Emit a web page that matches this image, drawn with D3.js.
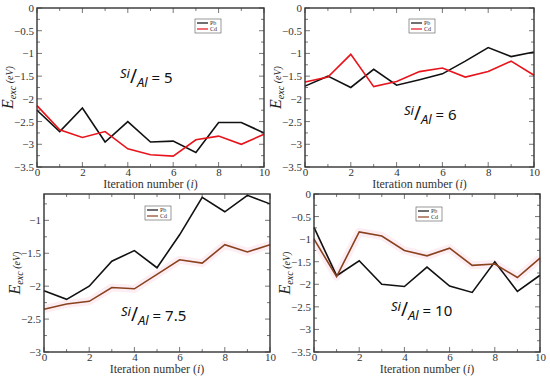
<!DOCTYPE html>
<html><head><meta charset="utf-8">
<script src="https://cdn.jsdelivr.net/npm/d3@7"></script>
<style>body{margin:0;background:#fff}svg{display:block}</style>
</head><body>
<script>
const iterations = [0,1,2,3,4,5,6,7,8,9,10];
const pb5  = [-2.25,-2.72,-2.2,-2.95,-2.5,-2.95,-2.93,-3.18,-2.52,-2.52,-2.75];
const cd5  = [-2.15,-2.68,-2.85,-2.72,-3.1,-3.23,-3.26,-2.9,-2.82,-3.0,-2.78];
const pb6  = [-1.72,-1.5,-1.75,-1.35,-1.7,-1.58,-1.45,-1.17,-0.87,-1.07,-0.97];
const cd6  = [-1.63,-1.52,-1.02,-1.73,-1.62,-1.4,-1.32,-1.52,-1.4,-1.17,-1.48];
const pb75 = [-2.07,-2.2,-2.0,-1.62,-1.46,-1.72,-1.22,-0.65,-0.87,-0.62,-0.75];
const cd75 = [-2.35,-2.27,-2.23,-2.02,-2.04,-1.82,-1.6,-1.65,-1.37,-1.48,-1.37];
const pb10 = [-0.74,-1.81,-1.48,-2.0,-2.05,-1.62,-2.04,-2.18,-1.5,-2.16,-1.8];
const cd10 = [-1.0,-1.83,-0.84,-0.93,-1.25,-1.37,-1.2,-1.58,-1.55,-1.85,-1.42];
const ratios = ["5","6","7.5","10"];
const xTicks = [0,2,4,6,8,10];
const yTicksA = [0,-0.5,-1,-1.5,-2,-2.5,-3,-3.5];
const yTicksB = [-1,-1.5,-2,-2.5,-3];

const panels = [
  {box:[37,8,264,167], ydom:[-3.5,0], yt:yTicksA, pb:pb5, cd:cd5, cdCol:"#e8141c", glow:false, ratio:ratios[0], leg:[195,19], ann:[120,83]},
  {box:[305,8,534,167], ydom:[-3.5,0], yt:yTicksA, pb:pb6, cd:cd6, cdCol:"#e8141c", glow:false, ratio:ratios[1], leg:[409,19], ann:[404,120]},
  {box:[44,194,270,352], ydom:[-3,-0.6], yt:yTicksB, pb:pb75, cd:cd75, cdCol:"#8a421e", glow:true, ratio:ratios[2], leg:[145,206], ann:[121,321]},
  {box:[314,194,540,352], ydom:[-3.5,0], yt:yTicksA, pb:pb10, cd:cd10, cdCol:"#8a421e", glow:true, ratio:ratios[3], leg:[416,207], ann:[391,316]}
];

const svg = d3.select("body").append("svg").attr("width",550).attr("height",376);
const serif = "'Liberation Serif','DejaVu Serif',serif";

panels.forEach(p => {
  const [x0,y0,x1,y1] = p.box;
  const x = d3.scaleLinear().domain([0,10]).range([x0,x1]);
  const y = d3.scaleLinear().domain(p.ydom).range([y1,y0]);
  const g = svg.append("g");

  const minorX = d3.range(0,10.01,1);
  const minorY = d3.range(Math.ceil(p.ydom[0]/0.25)*0.25, p.ydom[1]+0.001, 0.25);
  const tk = g.append("g").attr("stroke","#555").attr("stroke-width",0.8);
  minorX.forEach(v => {
    const L = (v%2===0)?5:3;
    tk.append("line").attr("x1",x(v)).attr("x2",x(v)).attr("y1",y1).attr("y2",y1-L);
    tk.append("line").attr("x1",x(v)).attr("x2",x(v)).attr("y1",y0).attr("y2",y0+L);
  });
  minorY.forEach(v => {
    const major = Math.abs(v/0.5 - Math.round(v/0.5))<1e-6;
    const L = major?5:3;
    tk.append("line").attr("x1",x0).attr("x2",x0+L).attr("y1",y(v)).attr("y2",y(v));
    tk.append("line").attr("x1",x1).attr("x2",x1-L).attr("y1",y(v)).attr("y2",y(v));
  });

  const ax = g.append("g").attr("transform",`translate(0,${y1})`)
    .call(d3.axisBottom(x).tickValues(xTicks).tickSize(0).tickPadding(1).tickFormat(d3.format("d")));
  ax.select(".domain").remove();
  ax.selectAll("text").attr("font-family",serif).attr("font-size",11).attr("fill","#333");
  const ay = g.append("g").attr("transform",`translate(${x0},0)`)
    .call(d3.axisLeft(y).tickValues(p.yt).tickSize(0).tickPadding(3).tickFormat(d => d3.format("")(d).replace("-","\u2212")));
  ay.select(".domain").remove();
  ay.selectAll("text").attr("font-family",serif).attr("font-size",11).attr("fill","#333");

  const line = d3.line().x((d,i)=>x(iterations[i])).y(d=>y(d));
  if (p.glow) {
    g.append("path").datum(p.cd).attr("d",line).attr("fill","none")
      .attr("stroke","#fdeef4").attr("stroke-width",8).attr("stroke-linejoin","round");
  }
  g.append("path").datum(p.pb).attr("d",line).attr("fill","none").attr("stroke","#111").attr("stroke-width",1.6);
  g.append("path").datum(p.cd).attr("d",line).attr("fill","none").attr("stroke",p.cdCol).attr("stroke-width",1.6);

  g.append("rect").attr("x",x0).attr("y",y0).attr("width",x1-x0).attr("height",y1-y0)
    .attr("fill","none").attr("stroke","#333").attr("stroke-width",1.4);

  g.append("text").attr("x",(x0+x1)/2).attr("y",y1+21).attr("text-anchor","middle")
    .attr("font-family",serif).attr("font-size",12).attr("fill","#333")
    .html("Iteration number (<tspan font-style='italic'>i</tspan>)");
  const yl = g.append("text").attr("transform",`translate(${x0-24},${(y0+y1)/2}) rotate(-90)`)
    .attr("text-anchor","middle").attr("font-family",serif).attr("fill","#222").attr("font-style","italic");
  yl.append("tspan").attr("font-size",16).text("E");
  yl.append("tspan").attr("font-size",10).attr("dy",3).text("exc");
  yl.append("tspan").attr("font-size",10).attr("dy",-3).text(" (eV)");

  const [lx,ly] = p.leg;
  const lg = g.append("g");
  lg.append("rect").attr("x",lx).attr("y",ly).attr("width",26).attr("height",14).attr("fill","#fff").attr("stroke","#555").attr("stroke-width",0.6);
  [["Pb","#111"],["Cd",p.cdCol]].forEach((e,i)=>{
    lg.append("line").attr("x1",lx+2).attr("x2",lx+13).attr("y1",ly+4+i*6).attr("y2",ly+4+i*6).attr("stroke",e[1]).attr("stroke-width",1.2);
    lg.append("text").attr("x",lx+15).attr("y",ly+6+i*6).attr("font-family",serif).attr("font-size",6).attr("fill","#333").text(e[0]);
  });

  const [tx,ty] = p.ann;
  const an = g.append("text").attr("x",tx).attr("y",ty).attr("font-family","'Noto Sans','DejaVu Sans',sans-serif").attr("fill","#111");
  an.append("tspan").attr("font-size",13).attr("font-style","italic").attr("dy",-5).text("Si");
  an.append("tspan").attr("font-size",19).attr("dy",5).text("/");
  an.append("tspan").attr("font-size",13).attr("font-style","italic").attr("dy",4).text("Al");
  an.append("tspan").attr("font-size",15).attr("dy",-4).text(" = " + p.ratio);
});
</script>
</body></html>
